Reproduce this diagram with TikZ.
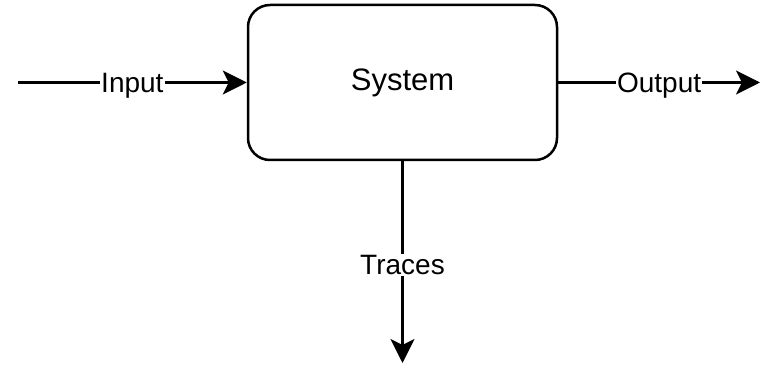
\documentclass[tikz,border=0pt]{standalone}
\usepackage{fontspec}
\setmainfont{Liberation Sans}
\usetikzlibrary{arrows.meta}
\begin{document}
\begin{tikzpicture}[x=1pt,y=-1pt,line width=2.5pt]

      \useasboundingbox (0,0) rectangle (764,366);

      \node[draw, rounded corners=22pt, minimum width=309pt, minimum height=155pt,
            font=\fontsize{31}{36}\selectfont] (system) at (402.5,82.5) {System};

      \coordinate (in)  at (18,82.5);
      \coordinate (out) at (760,82.5);
      \coordinate (tr)  at (402.5,363);

      \begin{scope}[every node/.style={fill=white, inner sep=1pt, yshift=-3pt, font=\fontsize{28}{32}\selectfont}]

        \begin{scope}[every edge/.style={draw, -{Stealth[length=24pt, width=24pt, inset=6pt]}}]
          \path (in)     edge node {Input}  (system);
          \path (system) edge node {Output} (out);
          \path (system) edge node {Traces} (tr);
        \end{scope}
      \end{scope}

    \end{tikzpicture}
\end{document}
